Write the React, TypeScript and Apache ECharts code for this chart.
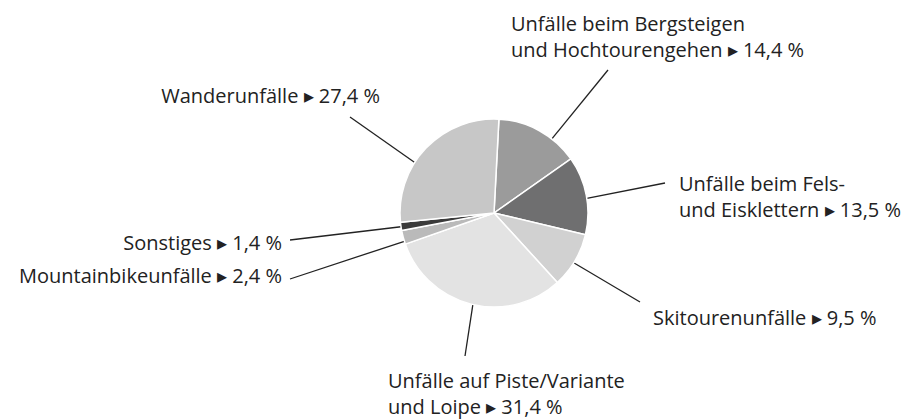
import React, { useEffect, useRef } from "react";
import * as echarts from "echarts";

// ---- data ----
const CATEGORIES: string[] = [
  "Unfälle beim Bergsteigen\nund Hochtourengehen",
  "Unfälle beim Fels-\nund Eisklettern",
  "Skitourenunfälle",
  "Unfälle auf Piste/Variante\nund Loipe",
  "Mountainbikeunfälle",
  "Sonstiges",
  "Wanderunfälle",
];
const VALUES: number[] = [14.4, 13.5, 9.5, 31.4, 2.4, 1.4, 27.4];
const COLORS: string[] = ["#9b9b9b", "#6f6f70", "#d1d1d1", "#e3e3e3", "#bababa", "#3a3a3a", "#c7c7c7"];

// ---- layout (label placement, leader lines) ----
const CENTER: [number, number] = [494, 213];
const RADIUS = 94;
type LabelPos = { x: number; y: number; align: "left" | "right"; anchorDeg: number; end: [number, number] };
const LABEL_POS: LabelPos[] = [
  { x: 511, y: 36, align: "left", anchorDeg: 38, end: [608, 70] },
  { x: 679, y: 196, align: "left", anchorDeg: 81, end: [665, 183] },
  { x: 653, y: 317, align: "left", anchorDeg: 122, end: [640, 302] },
  { x: 388, y: 393, align: "left", anchorDeg: 193, end: [465, 356] },
  { x: 282, y: 275, align: "right", anchorDeg: 252.5, end: [290, 279] },
  { x: 282, y: 242, align: "right", anchorDeg: 261.6, end: [290, 240] },
  { x: 380, y: 95, align: "right", anchorDeg: 302.5, end: [350, 117] },
];

const fmt = (v: number) => v.toFixed(1).replace(".", ",");

export default function App() {
  const ref = useRef<HTMLDivElement>(null);
  useEffect(() => {
    if (!ref.current) return;
    const chart = echarts.init(ref.current, undefined, { renderer: "svg" });
    chart.setOption({
      animation: false,
      backgroundColor: "#ffffff",
      series: [
        {
          type: "pie",
          center: CENTER,
          radius: RADIUS,
          startAngle: 87,
          clockwise: true,
          avoidLabelOverlap: false,
          itemStyle: { borderColor: "#ffffff", borderWidth: 1.5 },
          label: {
            show: true,
            position: "outside",
            fontFamily: "'Open Sans', 'Noto Sans', sans-serif",
            fontSize: 20,
            lineHeight: 26,
            color: "#222222",
            formatter: (p: any) => `${p.name} ▸ ${fmt(p.value)} %`,
          },
          labelLine: {
            show: true,
            length: 10,
            length2: 10,
            smooth: false,
            lineStyle: { color: "#222222", width: 1.3 },
          },
          labelLayout: (params: any) => {
            const l = LABEL_POS[params.dataIndex];
            const a = (l.anchorDeg * Math.PI) / 180;
            const edge = [CENTER[0] + RADIUS * Math.sin(a), CENTER[1] - RADIUS * Math.cos(a)];
            return {
              x: l.x,
              y: l.y,
              align: l.align,
              verticalAlign: "middle",
              labelLinePoints: [edge, edge, l.end],
            };
          },
          data: CATEGORIES.map((name, i) => ({
            name,
            value: VALUES[i],
            itemStyle: { color: COLORS[i] },
          })),
        },
      ],
    });
    return () => chart.dispose();
  }, []);
  return (
    <div
      ref={ref}
      style={{ position: "absolute", left: 0, top: 0, width: 908, height: 419 }}
    />
  );
}
